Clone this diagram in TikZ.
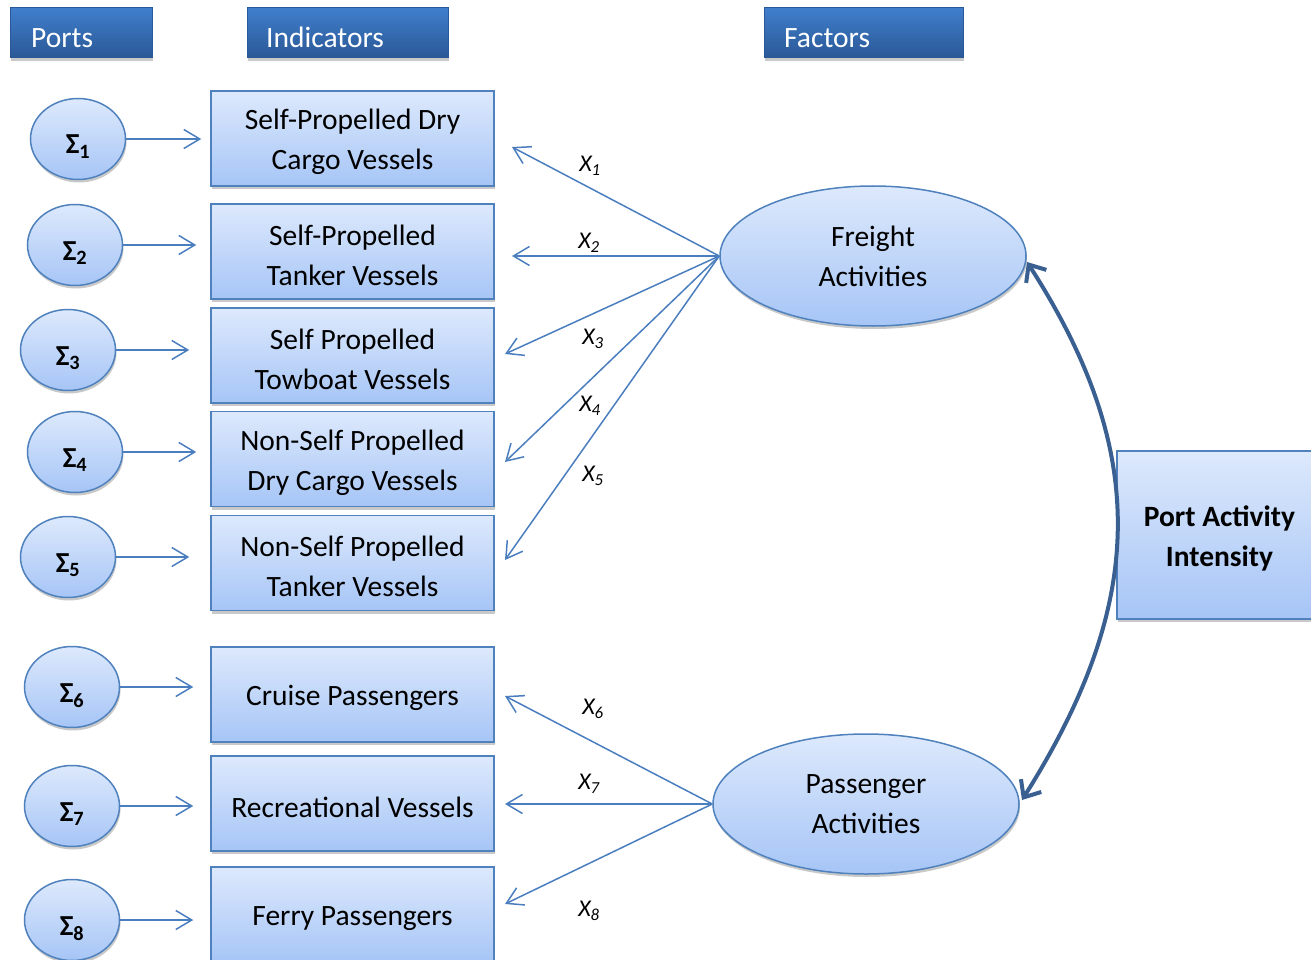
\documentclass[tikz,border=0pt]{standalone}
\usepackage{fontspec}
\setmainfont{Carlito}
\usetikzlibrary{shapes.geometric,arrows.meta,shadows}
\definecolor{boxtop}{RGB}{221,233,252}
\definecolor{boxbot}{RGB}{166,197,246}
\definecolor{bordc}{RGB}{79,129,189}
\definecolor{arrc}{RGB}{74,126,190}
\definecolor{headtop}{RGB}{64,126,204}
\definecolor{headbot}{RGB}{42,88,150}
\definecolor{thickc}{RGB}{58,95,145}
\newcommand\dnstrut{\rule{0pt}{28pt}}
\begin{document}
\begin{tikzpicture}[x=1pt,y=-1pt,
  shad/.style={drop shadow={shadow xshift=1pt,shadow yshift=-3pt,opacity=0.3,fill=black!70}},
  hdr/.style={draw=headbot,line width=1pt,top color=headtop,bottom color=headbot,minimum height=50pt,inner sep=0pt,shad},
  hdrtxt/.style={text=white,font=\fontsize{29.5}{34}\selectfont,anchor=base west,inner sep=0pt},
  ind/.style={draw=bordc,line width=1.5pt,top color=boxtop,bottom color=boxbot,minimum width=283pt,minimum height=95pt,align=center,inner sep=0pt,font=\fontsize{29.5}{40}\selectfont,shad},
  port/.style={ellipse,draw=bordc,line width=1.5pt,top color=boxtop,bottom color=boxbot,minimum width=95pt,minimum height=81pt,inner sep=0pt,text height=30pt,text depth=0pt,font=\fontsize{29}{32}\selectfont\bfseries,shad},
  fac/.style={ellipse,draw=bordc,line width=1.5pt,top color=boxtop,bottom color=boxbot,minimum width=306pt,minimum height=140pt,inner sep=0pt,align=center,font=\fontsize{29.5}{40}\selectfont,shad},
  larr/.style={draw=arrc,line width=1.5pt,-{Straight Barb[length=16pt,width=19pt,line width=1.5pt]}},
  xlab/.style={font=\fontsize{24}{28}\selectfont\itshape,inner sep=0pt},
]
\useasboundingbox (0,0) rectangle (1311,960);
% headers
\node[hdr,minimum width=142pt] (hp) at (81,33) {};
\node[hdrtxt] (hpt) at (31,48) {Ports};
\node[hdr,minimum width=201pt] (hi) at (347.5,33) {};
\node[hdrtxt] (hit) at (266,48) {Indicators};
\node[hdr,minimum width=199pt] (hf) at (863.5,33) {};
\node[hdrtxt] (hft) at (784,48) {Factors};
% indicators
\node[ind] (b1) at (352.5,138.5) {\dnstrut Self-Propelled Dry\\Cargo Vessels};
\node[ind] (b2) at (352.5,251.5) {\dnstrut Self-Propelled\\Tanker Vessels};
\node[ind] (b3) at (352.5,355.5) {\dnstrut Self Propelled\\Towboat Vessels};
\node[ind] (b4) at (352.5,459) {\dnstrut Non-Self Propelled\\Dry Cargo Vessels};
\node[ind] (b5) at (352.5,563) {\dnstrut Non-Self Propelled\\Tanker Vessels};
\node[ind] (b6) at (352.5,694.5) {\dnstrut Cruise Passengers};
\node[ind] (b7) at (352.5,803.5) {\dnstrut Recreational Vessels};
\node[ind] (b8) at (352.5,914.5) {\dnstrut Ferry Passengers};
% ports
\node[port] (s1) at (78,139) {Σ\textsubscript{1}};
\node[port] (s2) at (75,245) {Σ\textsubscript{2}};
\node[port] (s3) at (68,350) {Σ\textsubscript{3}};
\node[port] (s4) at (75,452) {Σ\textsubscript{4}};
\node[port] (s5) at (68,557) {Σ\textsubscript{5}};
\node[port] (s6) at (72,687) {Σ\textsubscript{6}};
\node[port] (s7) at (72,806) {Σ\textsubscript{7}};
\node[port] (s8) at (72,920) {Σ\textsubscript{8}};
\draw[larr,shorten >=9pt] (s1.east) -- (s1.east -| b1.west);
\draw[larr,shorten >=14pt] (s2.east) -- (s2.east -| b2.west);
\draw[larr,shorten >=21pt] (s3.east) -- (s3.east -| b3.west);
\draw[larr,shorten >=14pt] (s4.east) -- (s4.east -| b4.west);
\draw[larr,shorten >=21pt] (s5.east) -- (s5.east -| b5.west);
\draw[larr,shorten >=17pt] (s6.east) -- (s6.east -| b6.west);
\draw[larr,shorten >=17pt] (s7.east) -- (s7.east -| b7.west);
\draw[larr,shorten >=17pt] (s8.east) -- (s8.east -| b8.west);
% factors
\node[fac] (fa) at (873,256) {Freight\\Activities};
\node[fac] (pa) at (866,804) {Passenger\\Activities};
% target
\node[ind,minimum width=205pt,minimum height=168pt,font=\fontsize{29.5}{40}\selectfont\bfseries] (pai) at (1219.5,535) {\dnstrut Port Activity\\Intensity};
% loading arrows
\coordinate (t1) at (512,147);
\coordinate (t2) at (512,256);
\coordinate (t3) at (505,354);
\coordinate (t4) at (505,462);
\coordinate (t5) at (505,560);
\coordinate (t6) at (505,696);
\coordinate (t7) at (505,804);
\coordinate (t8) at (505,904);
\foreach \i in {1,...,5} {\draw[larr] (fa.west) -- (t\i);}
\foreach \i in {6,7,8} {\draw[larr] (pa.west) -- (t\i);}
\node[xlab] (x1) at (590,166) {X\textsubscript{1}};
\node[xlab] (x2) at (589,243) {X\textsubscript{2}};
\node[xlab] (x3) at (593,339) {X\textsubscript{3}};
\node[xlab] (x4) at (590,406) {X\textsubscript{4}};
\node[xlab] (x5) at (593,476) {X\textsubscript{5}};
\node[xlab] (x6) at (593,709) {X\textsubscript{6}};
\node[xlab] (x7) at (589,784) {X\textsubscript{7}};
\node[xlab] (x8) at (589,911) {X\textsubscript{8}};
% correlation curve
\coordinate (c1) at (1027,262);
\coordinate (c2) at (1022,800);
\draw[draw=thickc,line width=4pt,{Straight Barb[length=14pt,width=24pt,line width=4pt]}-{Straight Barb[length=14pt,width=24pt,line width=4pt]}] (c1) .. controls (1148,450) and (1148,600) .. (c2);
\end{tikzpicture}
\end{document}
